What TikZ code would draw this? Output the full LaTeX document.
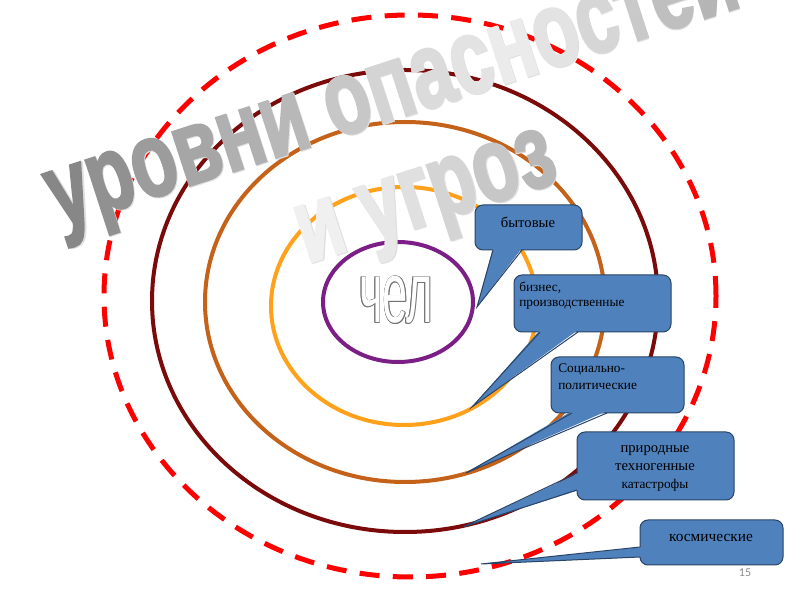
\documentclass[tikz,border=0pt]{standalone}
\usepackage{fontspec}
\usepackage{graphicx}
\setmainfont{Liberation Serif}
\newfontfamily\titlefont{Liberation Sans}[BoldFeatures={FakeBold=2.5}]
\newfontfamily\chelfont{Liberation Sans}
\newfontfamily\pagefont{Carlito}
\usetikzlibrary{calc}
\definecolor{ringpurple}{HTML}{7B1F86}
\definecolor{ringorange}{HTML}{FFA11A}
\definecolor{ringbrown}{HTML}{C4621A}
\definecolor{ringdark}{HTML}{7B0A0A}
\definecolor{ringred}{HTML}{FF0000}
\definecolor{boxblue}{HTML}{4F81BD}
\definecolor{boxline}{HTML}{2A4466}
\newcommand\tgc[1]{\color{black!#1}}
\begin{document}
\begin{tikzpicture}[x=0.75pt,y=0.75pt,
  ring/.style={line width=3pt},
  callbox/.style={draw=boxline, fill=boxblue, line width=0.75pt, rounded corners=6pt, inner sep=0pt},
  wedgeline/.style={draw=boxline, line width=0.75pt, line join=miter},
  calltext/.style={font=\fontsize{10}{11.25}\selectfont, text=black, inner sep=0pt},
  titletext/.style={font=\titlefont\bfseries\fontsize{56}{56}\selectfont, inner sep=0pt, rotate=18, anchor=base},
  cheltext/.style={font=\chelfont\fontsize{34}{34}\selectfont, inner sep=0pt},
]
\useasboundingbox (0,0) rectangle (800,600);
\fill[white] (0,0) rectangle (800,600);

% rings
\draw[ring, ringred, line width=3.75pt, dash pattern=on 15pt off 10pt] (410,304) ellipse [x radius=306, y radius=281];
\draw[ring, ringdark] (405,299) ellipse [x radius=253, y radius=231];
\draw[ring, ringbrown] (405,298) ellipse [x radius=200, y radius=180];
\draw[ring, ringorange] (404,294) ellipse [x radius=133, y radius=119];
\draw[ring, ringpurple] (398,298) ellipse [x radius=75, y radius=60];

% chel (outlined text)
\foreach \a in {0,45,...,315}
  \node[cheltext, text=black!55] (chelo\a) at ($(396,300)+(\a:0.55pt)$) {\scalebox{1}[1.9]{чел}};
\node[cheltext, text=white] (chel) at (396,300) {\scalebox{1}[1.9]{чел}};

% title
\node[titletext, text=black!12] (t1s) at ($(401,483)+(0.7pt,-0.7pt)$) {\scalebox{1}[1.42]{уровни опасностей}};
\node[titletext] (t1) at (401,483) {\scalebox{1}[1.42]{\tgc{47}у\tgc{43}р\tgc{39}о\tgc{35}в\tgc{31}н\tgc{28}и \tgc{22}о\tgc{17}п\tgc{14}а\tgc{11}с\tgc{8}н\tgc{11}о\tgc{16}с\tgc{21}т\tgc{25}е\tgc{29}й}};
\node[titletext, text=black!12] (t2s) at ($(434,378)+(0.7pt,-0.7pt)$) {\scalebox{1}[1.42]{и угроз}};
\node[titletext] (t2) at (434,378) {\scalebox{1}[1.42]{\tgc{6}и \tgc{9}у\tgc{12}г\tgc{17}р\tgc{22}о\tgc{28}з}};

% callout 1
\node[callbox, minimum width=80.25pt, minimum height=33.75pt] (b1) at (528.5,372.5) {};
\coordinate (b1l) at (493,350); \coordinate (b1r) at (522,350); \coordinate (tip1) at (477,293);
\fill[boxblue] ($(b1l)+(0,2)$) -- (tip1) -- ($(b1r)+(0,2)$) -- cycle;
\draw[wedgeline] (b1l) -- (tip1) -- (b1r);
\node[calltext, font=\fontsize{11}{12}\selectfont] (l1) at (528,378) {бытовые};

% callout 2
\node[callbox, minimum width=117.75pt, minimum height=42.75pt] (b2) at (592.5,296.5) {};
\coordinate (b2l) at (540,268); \coordinate (b2r) at (578,268); \coordinate (tip2) at (472,193);
\fill[boxblue] ($(b2l)+(0,2)$) -- (tip2) -- ($(b2r)+(0,2)$) -- cycle;
\draw[wedgeline] (b2l) -- (tip2) -- (b2r);
\node[calltext, anchor=west, align=left] (l2) at (519,304.5) {бизнес,\\производственные};

% callout 3
\node[callbox, minimum width=99.75pt, minimum height=42pt] (b3) at (617.5,215) {};
\coordinate (b3l) at (572,187); \coordinate (b3r) at (607,187); \coordinate (tip3) at (466,127);
\fill[boxblue] ($(b3l)+(0,2)$) -- (tip3) -- ($(b3r)+(0,2)$) -- cycle;
\draw[wedgeline] (b3l) -- (tip3) -- (b3r);
\node[calltext, font=\fontsize{10}{12.75}\selectfont, anchor=west, align=left] (l3) at (558,223.5) {Социально-\\политические};

% callout 4
\node[callbox, minimum width=117.75pt, minimum height=51pt] (b4) at (655.5,134) {};
\coordinate (b4t) at (577,127); \coordinate (b4b) at (577,110); \coordinate (tip4) at (463,73);
\fill[boxblue] ($(b4t)+(2,0)$) -- (tip4) -- ($(b4b)+(2,0)$) -- cycle;
\draw[wedgeline] (b4t) -- (tip4) -- (b4b);
\node[calltext, font=\fontsize{11}{13.5}\selectfont, align=center] (l4) at (655,132) {природные\\техногенные\\{\fontsize{10}{13.5}\selectfont катастрофы}};

% callout 5
\node[callbox, minimum width=107.25pt, minimum height=33.75pt] (b5) at (711.5,57.5) {};
\coordinate (b5t) at (640,53); \coordinate (b5b) at (640,43); \coordinate (tip5) at (481,36);
\fill[boxblue] ($(b5t)+(2,0)$) -- (tip5) -- ($(b5b)+(2,0)$) -- cycle;
\draw[wedgeline] (b5t) -- (tip5) -- (b5b);
\node[calltext, font=\fontsize{11.5}{12}\selectfont] (l5) at (711,62) {космические};

% page number
\node[font=\pagefont\fontsize{9}{9}\selectfont, text=black!45, inner sep=0pt] (pg) at (745,27) {15};
\end{tikzpicture}
\end{document}
